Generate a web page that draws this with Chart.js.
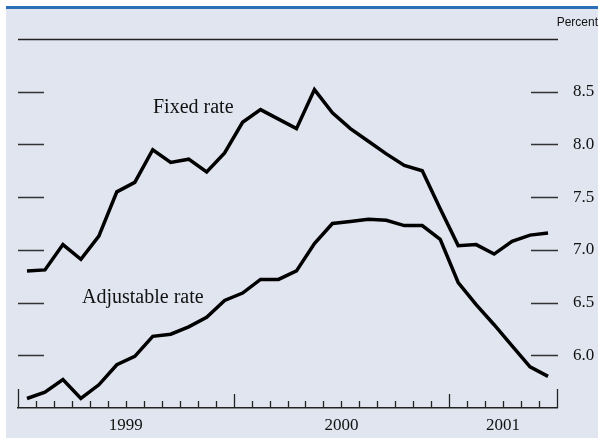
<!DOCTYPE html>
<html>
<head>
<meta charset="utf-8">
<script src="https://cdn.jsdelivr.net/npm/chart.js@4.4.0/dist/chart.umd.min.js"></script>
<style>
  html, body { margin: 0; padding: 0; background: #fff; }
  #wrap { width: 598px; height: 438px; }
</style>
</head>
<body>
<div id="wrap"><canvas id="rateChart" width="598" height="438"></canvas></div>
<script>
// Monthly, Jan 1999 - Jun 2001
const months = [
    '1999-01', '1999-02', '1999-03', '1999-04', '1999-05', '1999-06',
    '1999-07', '1999-08', '1999-09', '1999-10', '1999-11', '1999-12',
    '2000-01', '2000-02', '2000-03', '2000-04', '2000-05', '2000-06',
    '2000-07', '2000-08', '2000-09', '2000-10', '2000-11', '2000-12',
    '2001-01', '2001-02', '2001-03', '2001-04', '2001-05', '2001-06'
];
const fixedRate = [
    6.80, 6.81, 7.05, 6.91, 7.13, 7.55, 7.64, 7.95, 7.83, 7.86, 7.74, 7.92,
    8.21, 8.33, 8.24, 8.15, 8.52, 8.30, 8.15, 8.03, 7.91, 7.80, 7.75, 7.39,
    7.04, 7.05, 6.96, 7.08, 7.14, 7.16
];
const adjustableRate = [
    5.59, 5.65, 5.77, 5.59, 5.72, 5.91, 5.99, 6.18, 6.20, 6.27, 6.36, 6.52,
    6.59, 6.72, 6.72, 6.80, 7.06, 7.25, 7.27, 7.29, 7.28, 7.23, 7.23, 7.10,
    6.69, 6.48, 6.29, 6.09, 5.89, 5.80
];
const yearLabels = ['1999', '2000', '2001'];
const yTicks = [6.0, 6.5, 7.0, 7.5, 8.0, 8.5];
const yMin = 5.5;
const yMax = 9.0;

const serif = "'Liberation Serif', 'Times New Roman', serif";

// year label sits in the middle of the months shown for that year
const yearCenters = yearLabels.map(yr => {
    const idx = months.map((m, i) => m.startsWith(yr) ? i : -1).filter(i => i >= 0);
    return (idx[0] + idx[idx.length - 1] + 1) / 2;
});

const toPoints = arr => arr.map((v, i) => ({ x: i + 0.5, y: v }));

const frame = {
    id: 'frame',
    beforeDraw(chart) {
        const ctx = chart.ctx;
        ctx.save();
        ctx.fillStyle = '#ffffff';
        ctx.fillRect(0, 0, chart.width, chart.height);
        ctx.fillStyle = '#e1e5f0';
        ctx.fillRect(6, 8, chart.width - 6, chart.height - 8);
        ctx.fillStyle = '#2a6fb5';
        ctx.fillRect(6, 6, chart.width - 6, 3);
        ctx.restore();
    },
    afterDraw(chart) {
        const ctx = chart.ctx;
        const area = chart.chartArea;
        const xs = chart.scales.x;
        const ys = chart.scales.y;
        ctx.save();
        ctx.strokeStyle = '#222';
        ctx.lineWidth = 1.3;

        // top rule
        ctx.beginPath();
        ctx.moveTo(area.left, Math.round(ys.getPixelForValue(yMax)) + 0.5);
        ctx.lineTo(area.right + 1, Math.round(ys.getPixelForValue(yMax)) + 0.5);
        ctx.stroke();

        // month ticks pointing up from the axis
        for (let i = 0; i <= months.length; i++) {
            const x = Math.round(xs.getPixelForValue(i)) + 0.5;
            let h = 7;
            if (i === 0 || i === months.length) h = 19;
            else if (months[i].endsWith('-01')) h = 14;
            ctx.beginPath();
            ctx.moveTo(x, area.bottom);
            ctx.lineTo(x, area.bottom - h);
            ctx.stroke();
        }

        // value ticks on both sides
        ctx.strokeStyle = '#333';
        yTicks.forEach(v => {
            const y = Math.round(ys.getPixelForValue(v)) + 0.5;
            ctx.beginPath();
            ctx.moveTo(area.left, y);
            ctx.lineTo(area.left + 26, y);
            ctx.moveTo(area.right - 26, y);
            ctx.lineTo(area.right + 1, y);
            ctx.stroke();
        });

        // series captions and unit
        ctx.fillStyle = '#111';
        ctx.textBaseline = 'middle';
        ctx.font = '20px ' + serif;
        ctx.textAlign = 'left';
        ctx.fillText('Fixed rate', 153, 108);
        ctx.fillText('Adjustable rate', 82, 298);
        ctx.font = "12px 'Liberation Sans', Arial, sans-serif";
        ctx.textAlign = 'right';
        ctx.fillText('Percent', 598, 23);
        ctx.restore();
    }
};

new Chart(document.getElementById('rateChart'), {
    type: 'line',
    data: {
        datasets: [
            {
                label: 'Fixed rate',
                data: toPoints(fixedRate),
                borderColor: '#000',
                borderWidth: 3.5,
                pointRadius: 0,
                tension: 0,
                fill: false
            },
            {
                label: 'Adjustable rate',
                data: toPoints(adjustableRate),
                borderColor: '#000',
                borderWidth: 3.5,
                pointRadius: 0,
                tension: 0,
                fill: false
            }
        ]
    },
    options: {
        responsive: false,
        animation: false,
        layout: { padding: { left: 18, top: 39, right: 0, bottom: 0 } },
        plugins: {
            legend: { display: false },
            tooltip: { enabled: false }
        },
        scales: {
            x: {
                type: 'linear',
                min: 0,
                max: months.length,
                grid: { display: false, drawTicks: false },
                border: { display: true, color: '#222', width: 1.5 },
                afterBuildTicks: scale => {
                    scale.ticks = yearCenters.map(v => ({ value: v }));
                },
                afterFit: scale => { scale.height = 30; },
                ticks: {
                    autoSkip: false,
                    maxRotation: 0,
                    padding: 7,
                    color: '#111',
                    font: { family: serif, size: 17 },
                    callback: (value, index) => yearLabels[index]
                }
            },
            y: {
                position: 'right',
                min: yMin,
                max: yMax,
                grid: { display: false, drawTicks: false },
                border: { display: false },
                afterBuildTicks: scale => {
                    scale.ticks = yTicks.map(v => ({ value: v }));
                },
                afterFit: scale => { scale.width = 41; },
                ticks: {
                    padding: 16,
                    color: '#111',
                    font: { family: serif, size: 17 },
                    callback: value => value.toFixed(1)
                }
            }
        }
    },
    plugins: [frame]
});
</script>
</body>
</html>
